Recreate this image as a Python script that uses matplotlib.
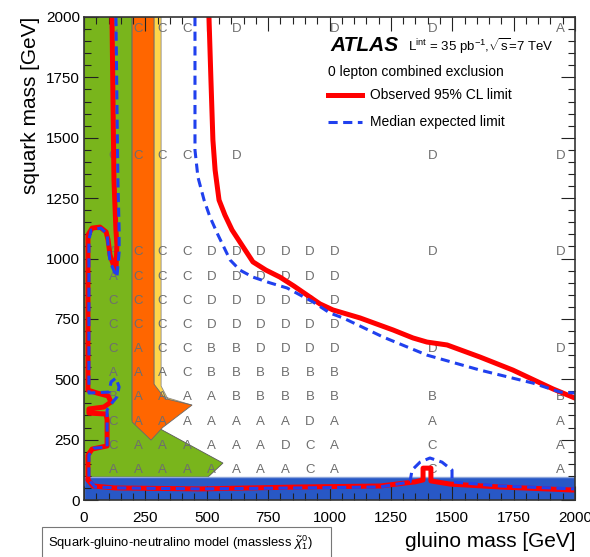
import numpy as np
import matplotlib
matplotlib.use("Agg")
import matplotlib.pyplot as plt
from matplotlib.patches import Polygon, Rectangle

plt.rcParams['font.family'] = ['Liberation Sans', 'DejaVu Sans']
plt.rcParams['mathtext.fontset'] = 'custom'
plt.rcParams['mathtext.rm'] = 'Liberation Sans'
plt.rcParams['mathtext.it'] = 'Liberation Sans:italic'

# Grade das letras (linhas de baixo para cima)
gluino_cols = [120, 220, 320, 420, 520, 620, 720, 820, 920, 1020]
squark_rows = [125, 225, 325, 425, 525, 625, 725, 825, 925, 1025]
grid_letters = [
    "AAAAAAAACA",
    "CAAAAAADCA",
    "CAAAAAAADA",
    "BAAAABBBBB",
    "AAACBBBBBB",
    "CACCBBDDDD",
    "CCCCDDDDDD",
    "CCCCDDDDDD",
    "ACCCDDDDDD",
    "ACCCDDDDDD",
]
# Pontos esparsos fora do bloco denso
sparse_x = [120, 220, 320, 420, 620, 1420, 1940,
            120, 220, 320, 420, 620, 1020, 1420, 1940,
            1420, 1420, 1420, 1420, 1420, 1420,
            1940, 1940, 1940, 1940, 1940, 1940]
sparse_y = [1425, 1425, 1425, 1425, 1425, 1425, 1425,
            1950, 1950, 1950, 1950, 1950, 1950, 1950, 1950,
            125, 225, 325, 425, 625, 1025,
            125, 225, 325, 425, 625, 1025]
sparse_letters = "CCCCDDD" + "CCCCDDDA" + "CCABDD" + "AAABDD"

# Regioes excluidas
green_x = [0, 0, 196, 196, 300, 566, 505]
green_y = [95, 2000, 2000, 330, 300, 153, 95]
orange_x = [196, 285, 285, 330, 440, 320, 273, 196]
orange_y = [2000, 2000, 480, 420, 393, 300, 248, 323]
yellow_x = [285, 314, 314, 345, 440, 285]
yellow_y = [2000, 2000, 472, 412, 393, 440]
blue_band = 95

# Limite observado (parte direita)
obs_x = [509, 517, 525, 534, 550, 574, 603, 648, 688, 741, 798, 855, 908, 961,
         1014, 1124, 1259, 1340, 1397, 1479, 1613, 1747, 1910, 2000]
obs_y = [2000, 1739, 1491, 1366, 1242, 1180, 1118, 1048, 986, 952, 923, 886, 849, 812,
         787, 754, 704, 671, 654, 642, 592, 538, 460, 422]
# Limite observado (parte esquerda e inferior)
obs2_x = [114, 118, 122, 130, 134, 130, 106, 98, 90, 65, 33, 16, 16, 53, 98, 110,
          81, 20, 20, 90, 94, 94, 33, 16, 16, 37, 126, 473, 880, 1206, 1348, 1381,
          1381, 1413, 1413, 1491, 1694, 2000]
obs2_y = [2000, 1656, 1325, 1118, 1056, 944, 1014, 1077, 1110, 1130, 1126, 1097, 455,
          443, 431, 406, 385, 377, 360, 356, 331, 224, 211, 186, 83, 58, 50, 46, 54, 58,
          75, 83, 132, 132, 79, 66, 54, 41]
# Limite esperado (parte direita)
exp_x = [452, 452, 464, 489, 513, 546, 595, 635, 688, 758, 827, 880, 933, 1002,
         1055, 1218, 1397, 1613, 1829, 1939, 2000]
exp_y = [2000, 1449, 1337, 1242, 1172, 1097, 994, 952, 923, 899, 878, 849, 820, 774,
         754, 675, 600, 538, 484, 447, 443]
# Limite esperado (parte esquerda e inferior)
exp2_x = [130, 134, 138, 143, 143, 134, 106, 98, 94, 69, 29, 20, 20, 102, 110, 130,
          143, 134, 114, 94, 94, 41, 20, 20, 45, 147, 473, 880, 1206, 1328, 1336, 1369,
          1409, 1458, 1499, 1499, 1694, 2000]
exp2_y = [2000, 1656, 1325, 1118, 1027, 923, 986, 1056, 1101, 1126, 1118, 1077, 443,
          447, 489, 505, 468, 427, 402, 373, 219, 215, 186, 83, 54, 50, 46, 50, 54, 75,
          124, 157, 174, 157, 124, 75, 58, 46]

fig = plt.figure(figsize=(5.9, 5.57), dpi=100)
ax = fig.add_axes([0.1424, 0.1023, 0.8322, 0.8672])
ax.set_xlim(0, 2000)
ax.set_ylim(0, 2000)

# Areas coloridas
ax.add_patch(Polygon(np.column_stack([green_x, green_y]), closed=True,
                     facecolor='#79b51c', edgecolor='#5a5a5a', lw=0.6, zorder=1))
ax.add_patch(Polygon(np.column_stack([yellow_x, yellow_y]), closed=True,
                     facecolor='#ffd54a', edgecolor='#8a8a8a', lw=0.6, zorder=1.1))
ax.add_patch(Polygon(np.column_stack([orange_x, orange_y]), closed=True,
                     facecolor='#ff6600', edgecolor='#6a6a6a', lw=0.6, zorder=1.2))
ax.add_patch(Rectangle((0, 0), 2000, blue_band, facecolor='#2858c6',
                       edgecolor='#8ea6dc', lw=1.0, zorder=1.3))

# Letras da grade
for i, yv in enumerate(squark_rows):
    for j, xv in enumerate(gluino_cols):
        ax.text(xv, yv, grid_letters[i][j], ha='center', va='center',
                fontsize=9.5, color='#6e6e6e', zorder=2)
for xv, yv, let in zip(sparse_x, sparse_y, sparse_letters):
    ax.text(xv, yv, let, ha='center', va='center', fontsize=9.5,
            color='#6e6e6e', zorder=2)

# Curvas de limite
ax.plot(obs_x, obs_y, color='#ff0000', lw=3.6, solid_joinstyle='round', zorder=3)
ax.plot(obs2_x, obs2_y, color='#ff0000', lw=3.6, solid_joinstyle='round', zorder=3)
ax.plot(exp_x, exp_y, color='#2040ee', lw=2.2, dashes=(3, 1.8), zorder=4)
ax.plot(exp2_x, exp2_y, color='#2040ee', lw=2.2, dashes=(3, 1.8), zorder=4)

# Legenda manual
ax.text(0.501, 0.942, 'ATLAS', transform=ax.transAxes, fontsize=15,
        fontweight='bold', fontstyle='italic', va='center', ha='left', zorder=5)
ax.text(0.660, 0.940, r'L$^{\mathrm{int}}$ = 35 pb$^{-1}$,$\sqrt{\mathrm{s}}$=7 TeV',
        transform=ax.transAxes, fontsize=9.5, va='center', ha='left', zorder=5)
ax.text(0.497, 0.886, '0 lepton combined exclusion', transform=ax.transAxes,
        fontsize=10, va='center', ha='left', zorder=5)
ax.plot([0.497, 0.566], [0.8385, 0.8385], transform=ax.transAxes,
        color='#ff0000', lw=3.6, zorder=5)
ax.text(0.5825, 0.8385, 'Observed 95% CL limit', transform=ax.transAxes,
        fontsize=10, va='center', ha='left', zorder=5)
ax.plot([0.497, 0.566], [0.7826, 0.7826], transform=ax.transAxes,
        color='#2040ee', lw=2.2, dashes=(3, 1.8), zorder=5)
ax.text(0.5825, 0.7826, 'Median expected limit', transform=ax.transAxes,
        fontsize=10, va='center', ha='left', zorder=5)

# Eixos
ax.set_xticks(np.arange(0, 2001, 250))
ax.set_yticks(np.arange(0, 2001, 250))
ax.set_xticks(np.arange(0, 2001, 50), minor=True)
ax.set_yticks(np.arange(0, 2001, 50), minor=True)
ax.tick_params(which='both', direction='in', top=True, right=True, width=0.8,
               color='#222222', labelsize=11)
ax.tick_params(which='major', length=10)
ax.tick_params(which='minor', length=5)
ax.tick_params(axis='x', pad=8)
ax.tick_params(axis='y', pad=3)
for sp in ax.spines.values():
    sp.set_linewidth(1.2)
    sp.set_color('#333333')
    sp.set_zorder(6)

ax.set_xlabel('gluino mass [GeV]', fontsize=15, loc='right', labelpad=5)
ax.set_ylabel('squark mass [GeV]', fontsize=15, loc='top', labelpad=4)

# Caixa do modelo
fig.patches.append(Rectangle((42 / 590, -0.02), (331 - 42) / 590, 0.02 + 30 / 557,
                             transform=fig.transFigure, facecolor='white',
                             edgecolor='#777777', lw=0.8))
fig.text(48 / 590, 1 - 543 / 557,
         r'Squark-gluino-neutralino model (massless $\tilde{\chi}^{0}_{1}$)',
         fontsize=9.4, va='center', ha='left')

fig.savefig('out.png', dpi=100)
